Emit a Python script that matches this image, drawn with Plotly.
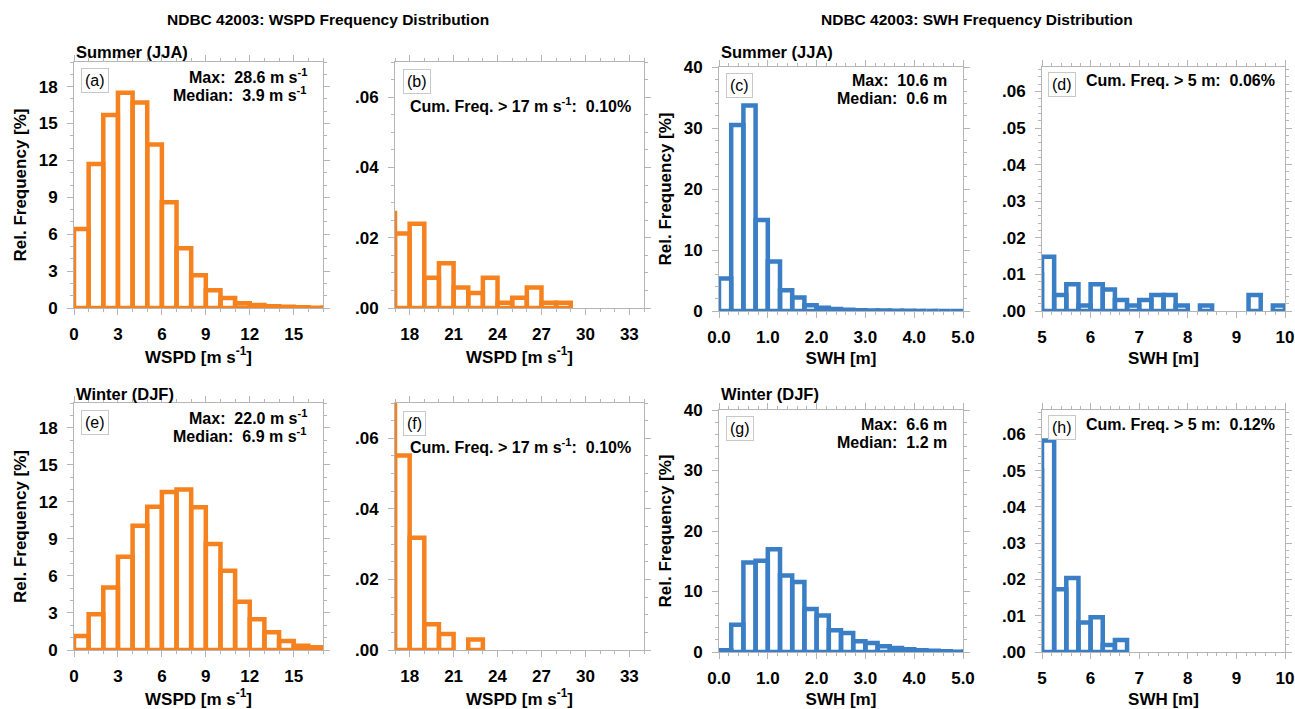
import plotly.graph_objects as go

W, H = 1295, 709
ORANGE = "#f5821f"
BLUE = "#3a7ec5"
FRAME = "#b5b5b5"
FONT = "Liberation Sans"

# ---------------- data (relative frequency, %) ----------------
# WSPD: 1 m/s bins starting at 0
wspd_bin_start = 0.0
wspd_bin_width = 1.0
wspd_jja = [6.43, 11.7, 15.7, 17.5, 16.7, 13.3, 8.6, 4.86, 2.66, 1.44, 0.81, 0.38,
            0.25, 0.15, 0.10, 0.06, 0.027,
            0.0212, 0.0240, 0.0086, 0.0127, 0.0058, 0.0043, 0.0086, 0.0015,
            0.0029, 0.0058, 0.0015, 0.0015]
wspd_djf = [1.13, 2.90, 5.07, 7.56, 10.06, 11.6, 12.8, 13.0, 11.55, 8.58, 6.42, 3.91,
            2.48, 1.43, 0.73, 0.35, 0.22,
            0.0551, 0.0318, 0.0073, 0.0045, 0.0, 0.0030]

# SWH: 0.25 m bins starting at 0
swh_bin_start = 0.0
swh_bin_width = 0.25
swh_jja = [5.34, 30.5, 33.7, 14.9, 8.1, 3.4, 2.2, 0.94, 0.55, 0.32, 0.20, 0.13,
           0.09, 0.07, 0.05, 0.04, 0.03, 0.025, 0.02, 0.01,
           0.0148, 0.0044, 0.0073, 0.0015, 0.0073, 0.0059, 0.0030, 0.0015,
           0.0030, 0.0044, 0.0044, 0.0015, 0.0, 0.0015, 0.0, 0.0, 0.0, 0.0044,
           0.0, 0.0015]
swh_djf = [0.3, 4.5, 14.8, 15.1, 17.0, 12.65, 11.55, 7.1, 6.05, 3.6, 3.15, 1.76,
           1.5, 0.94, 0.66, 0.45, 0.3, 0.2, 0.12, 0.05,
           0.0583, 0.0173, 0.0204, 0.0081, 0.0096, 0.0019, 0.0033]

# tick labels
wspd_x_main = [0, 3, 6, 9, 12, 15]
wspd_x_tail = [18, 21, 24, 27, 30, 33]
wspd_y_main = [0, 3, 6, 9, 12, 15, 18]
wspd_y_tail = [0.0, 0.02, 0.04, 0.06]
wspd_y_tail_text = [".00", ".02", ".04", ".06"]
swh_x_main = [0, 1, 2, 3, 4, 5]
swh_x_main_text = ["0.0", "1.0", "2.0", "3.0", "4.0", "5.0"]
swh_x_tail = [5, 6, 7, 8, 9, 10]
swh_y_main = [0, 10, 20, 30, 40]
swh_y_tail = [0.0, 0.01, 0.02, 0.03, 0.04, 0.05, 0.06]
swh_y_tail_text = [".00", ".01", ".02", ".03", ".04", ".05", ".06"]

# statistics text
stats = {
    "a": ("28.6 m s<sup>-1</sup>", "3.9 m s<sup>-1</sup>"),
    "e": ("22.0 m s<sup>-1</sup>", "6.9 m s<sup>-1</sup>"),
    "c": ("10.6 m", "0.6 m"),
    "g": ("6.6 m", "1.2 m"),
}
cumfreq = {
    "b": "Cum. Freq. > 17 m s<sup>-1</sup>:\u00a0 0.10%",
    "f": "Cum. Freq. > 17 m s<sup>-1</sup>:\u00a0 0.10%",
    "d": "Cum. Freq. > 5 m:\u00a0 0.06%",
    "h": "Cum. Freq. > 5 m:\u00a0 0.12%",
}


def outline(values, start, width):
    xs, ys = [], []
    for i, v in enumerate(values):
        if v <= 0:
            continue
        x0 = start + i * width
        x1 = x0 + width
        xs += [x0, x0, x1, x1, x0, None]
        ys += [0, v, v, 0, 0, None]
    return xs, ys


def xdom(l, r):
    return [l / W, r / W]


def ydom(t, b):
    return [1 - b / H, 1 - t / H]


# panel layout in pixels: left, right, top, bottom
panels = [
    dict(key="a", box=(74, 323, 62, 308), data=wspd_jja, start=wspd_bin_start, w=wspd_bin_width, color=ORANGE,
         xr=[0, 17], xt=wspd_x_main, xtt=[str(v) for v in wspd_x_main], xm=1,
         yr=[0, 20], yt=wspd_y_main, ytt=[str(v) for v in wspd_y_main], ym=1,
         xtitle="WSPD [m s<sup>-1</sup>]", ytitle="Rel. Frequency [%]"),
    dict(key="b", box=(395, 644, 62, 308), data=wspd_jja, start=wspd_bin_start, w=wspd_bin_width, color=ORANGE,
         xr=[17, 34], xt=wspd_x_tail, xtt=[str(v) for v in wspd_x_tail], xm=1,
         yr=[0, 0.07], yt=wspd_y_tail, ytt=wspd_y_tail_text, ym=0.005,
         xtitle="WSPD [m s<sup>-1</sup>]", ytitle=None),
    dict(key="c", box=(719, 963, 67, 311), data=swh_jja, start=swh_bin_start, w=swh_bin_width, color=BLUE,
         xr=[0, 5], xt=swh_x_main, xtt=swh_x_main_text, xm=0.2,
         yr=[0, 40], yt=swh_y_main, ytt=[str(v) for v in swh_y_main], ym=2,
         xtitle="SWH [m]", ytitle="Rel. Frequency [%]"),
    dict(key="d", box=(1042, 1285, 67, 311), data=swh_jja, start=swh_bin_start, w=swh_bin_width, color=BLUE,
         xr=[5, 10], xt=swh_x_tail, xtt=[str(v) for v in swh_x_tail], xm=0.2,
         yr=[0, 0.0667], yt=swh_y_tail, ytt=swh_y_tail_text, ym=0.002,
         xtitle="SWH [m]", ytitle=None),
    dict(key="e", box=(74, 323, 403, 650), data=wspd_djf, start=wspd_bin_start, w=wspd_bin_width, color=ORANGE,
         xr=[0, 17], xt=wspd_x_main, xtt=[str(v) for v in wspd_x_main], xm=1,
         yr=[0, 20], yt=wspd_y_main, ytt=[str(v) for v in wspd_y_main], ym=1,
         xtitle="WSPD [m s<sup>-1</sup>]", ytitle="Rel. Frequency [%]"),
    dict(key="f", box=(395, 644, 403, 650), data=wspd_djf, start=wspd_bin_start, w=wspd_bin_width, color=ORANGE,
         xr=[17, 34], xt=wspd_x_tail, xtt=[str(v) for v in wspd_x_tail], xm=1,
         yr=[0, 0.07], yt=wspd_y_tail, ytt=wspd_y_tail_text, ym=0.005,
         xtitle="WSPD [m s<sup>-1</sup>]", ytitle=None),
    dict(key="g", box=(719, 963, 410, 652), data=swh_djf, start=swh_bin_start, w=swh_bin_width, color=BLUE,
         xr=[0, 5], xt=swh_x_main, xtt=swh_x_main_text, xm=0.2,
         yr=[0, 40], yt=swh_y_main, ytt=[str(v) for v in swh_y_main], ym=2,
         xtitle="SWH [m]", ytitle="Rel. Frequency [%]"),
    dict(key="h", box=(1042, 1285, 410, 652), data=swh_djf, start=swh_bin_start, w=swh_bin_width, color=BLUE,
         xr=[5, 10], xt=swh_x_tail, xtt=[str(v) for v in swh_x_tail], xm=0.2,
         yr=[0, 0.0667], yt=swh_y_tail, ytt=swh_y_tail_text, ym=0.002,
         xtitle="SWH [m]", ytitle=None),
]

TICKFONT = dict(family=FONT, size=17, color="black", weight="bold")
TITLEFONT = dict(family=FONT, size=17, color="black", weight="bold")
TEXTFONT = dict(family=FONT, size=16, color="black", weight="bold")

fig = go.Figure()
layout = dict(width=W, height=H, margin=dict(l=0, r=0, t=0, b=0, autoexpand=False),
              paper_bgcolor="white", plot_bgcolor="white", showlegend=False,
              font=dict(family=FONT, color="black"))
annotations = []

for i, p in enumerate(panels):
    n = i + 1
    xa = "xaxis" if n == 1 else f"xaxis{n}"
    ya = "yaxis" if n == 1 else f"yaxis{n}"
    xref = "x" if n == 1 else f"x{n}"
    yref = "y" if n == 1 else f"y{n}"
    l, r, t, b = p["box"]
    xs, ys = outline(p["data"], p["start"], p["w"])
    fig.add_trace(go.Scatter(x=xs, y=ys, mode="lines", xaxis=xref, yaxis=yref,
                             line=dict(color=p["color"], width=4.5), hoverinfo="skip"))
    common = dict(showline=True, linecolor=FRAME, linewidth=1, mirror="ticks",
                  ticks="outside", ticklen=6, tickwidth=1, tickcolor=FRAME,
                  showgrid=False, zeroline=False, layer="below traces",
                  tickfont=TICKFONT, fixedrange=True, tickmode="array",
                  automargin=False)
    layout[xa] = dict(common, domain=xdom(l, r), range=p["xr"], anchor=yref,
                      tickvals=p["xt"], ticktext=p["xtt"],
                      ticklabelstandoff=5,
                      minor=dict(ticks="outside", dtick=p["xm"], tick0=0, ticklen=3,
                                 tickcolor=FRAME, showgrid=False),
                      title=dict(text=p["xtitle"], font=TITLEFONT, standoff=5))
    ydict = dict(common, domain=ydom(t, b), range=p["yr"], anchor=xref,
                 tickvals=p["yt"], ticktext=p["ytt"], ticklabelstandoff=6,
                 minor=dict(ticks="outside", dtick=p["ym"], tick0=0, ticklen=3,
                            tickcolor=FRAME, showgrid=False))
    if p["ytitle"]:
        ydict["title"] = dict(text=p["ytitle"], font=TITLEFONT, standoff=7)
    layout[ya] = ydict

    xd = f"{xref} domain"
    yd = f"{yref} domain"
    # panel letter box
    letter_shift = {"a": (7, 6), "b": (8, 7), "c": (7, 6), "d": (6, 5),
                    "e": (7, 7), "f": (8, 8), "g": (7, 6), "h": (6, 5)}[p["key"]]
    annotations.append(dict(text=f"({p['key']})", xref=xd, yref=yd, x=0, y=1,
                            xanchor="left", yanchor="top", xshift=letter_shift[0],
                            yshift=-letter_shift[1], showarrow=False,
                            font=dict(family=FONT, size=16, color="black"),
                            bordercolor="#c8c8c8", borderwidth=1, borderpad=3,
                            bgcolor="white"))
    if p["key"] in stats:
        mx, md = stats[p["key"]]
        annotations.append(dict(text=f"Max:\u00a0 {mx}", xref=xd, yref=yd, x=1, y=1,
                                xanchor="right", yanchor="middle", xshift=-14, yshift=-14,
                                showarrow=False, font=TEXTFONT))
        annotations.append(dict(text=f"Median:\u00a0 {md}", xref=xd, yref=yd, x=1, y=1,
                                xanchor="right", yanchor="middle", xshift=-14, yshift=-32,
                                showarrow=False, font=TEXTFONT))
    if p["key"] in cumfreq:
        if p["key"] in ("b", "f"):
            xs_, ys_ = 13, -43
        else:
            xs_, ys_ = 42, -14
        annotations.append(dict(text=cumfreq[p["key"]], xref=xd, yref=yd, x=0, y=1,
                                xanchor="left", yanchor="middle", xshift=xs_, yshift=ys_,
                                showarrow=False, font=TEXTFONT))

# season labels
season = [("x", "Summer (JJA)", 52), ("x3", "Summer (JJA)", 52),
          ("x5", "Winter (DJF)", 394), ("x7", "Winter (DJF)", 394)]
for xr_, txt, ypx in season:
    annotations.append(dict(text=txt, xref=f"{xr_} domain", yref="paper", x=0, y=1 - ypx / H,
                            xanchor="left", yanchor="middle", xshift=0, showarrow=False,
                            font=dict(family=FONT, size=16.5, color="black", weight="bold")))

# main titles
annotations.append(dict(text="NDBC 42003: WSPD Frequency Distribution", xref="paper", yref="paper",
                        x=328 / W, y=1 - 20 / H, xanchor="center", yanchor="middle",
                        showarrow=False, font=dict(family=FONT, size=15.5, color="black", weight="bold")))
annotations.append(dict(text="NDBC 42003: SWH Frequency Distribution", xref="paper", yref="paper",
                        x=977 / W, y=1 - 20 / H, xanchor="center", yanchor="middle",
                        showarrow=False, font=dict(family=FONT, size=15.5, color="black", weight="bold")))

layout["annotations"] = annotations
fig.update_layout(**layout)
fig.write_html("out.html")
